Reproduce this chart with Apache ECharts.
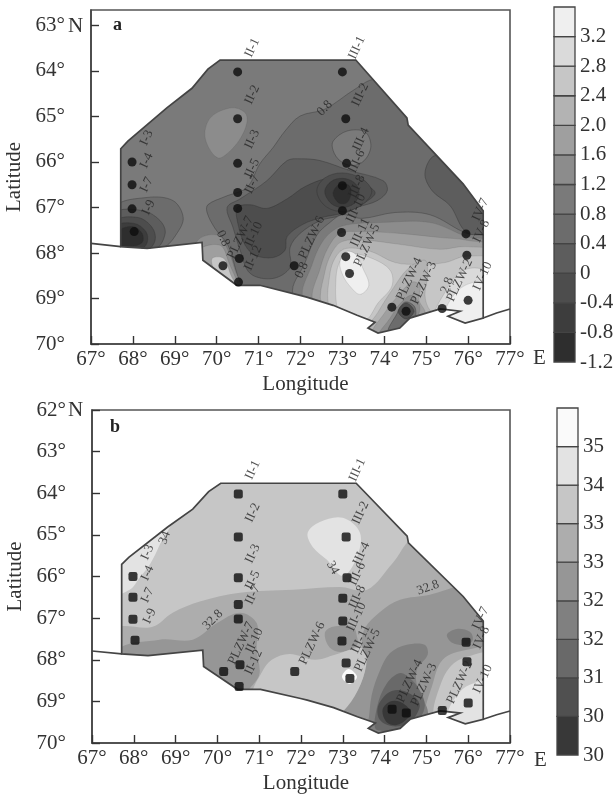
<!DOCTYPE html>
<html><head><meta charset="utf-8">
<style>html,body{margin:0;padding:0;background:#fff}#c{width:615px;height:796px}</style>
<script src="https://cdn.jsdelivr.net/npm/echarts@6/dist/echarts.min.js"></script>
</head><body><div id="c"></div>
<script>
// ---------- shared geography (longitude, latitude) ----------
const lonTicks = [67,68,69,70,71,72,73,74,75,76,77];
const latTicksA = [63,64,65,66,67,68,69,70];
const latTicksB = [62,63,64,65,66,67,68,69,70];
const region = [[67.71,67.86],[67.71,65.71],[67.88,65.54],[68.81,64.81],[69.41,64.38],[69.79,63.96],[70.08,63.76],[73.32,63.76],[74.54,65.03],[74.57,65.19],[75.88,66.48],[76.36,67.07],[76.36,69.43],[75.93,69.54],[75.52,69.39],[75.81,69.28],[75.33,69.23],[74.61,69.43],[74.37,69.65],[73.85,69.76],[73.61,69.65],[73.78,69.52],[73.35,69.37],[72.78,69.15],[72.15,68.97],[71.99,68.93],[71.03,68.71],[70.48,68.71],[69.67,68.16],[69.65,67.77],[68.34,67.9]];
const coastWest = [[67,67.79],[67.71,67.86]];
const coastEast = [[76.36,69.43],[76.68,69.32],[77,69.23]];
const stationNames = ['I-3','I-4','I-7','I-9','II-1','II-2','II-3','II-5','II-7','PLZW-7','II-10','II-12','PLZW-6','III-1','III-2','III-4','III-6','III-8','III-10','III-11','PLZW-5','PLZW-4','PLZW-3','PLZW-2','IV-7','IV-8','IV-10'];
const stationLon = [67.98,67.98,67.98,68.03,70.5,70.5,70.5,70.5,70.5,70.15,70.54,70.52,71.85,73,73.08,73.1,73,73,72.98,73.08,73.17,74.18,74.52,75.38,75.95,75.97,76];
const stationLat = [66,66.5,67.03,67.53,64.02,65.05,66.03,66.67,67.02,68.28,68.12,68.64,68.28,64.02,65.05,66.03,66.52,67.07,67.55,68.08,68.45,69.19,69.28,69.22,67.58,68.05,69.04];

// ---------- panel a: level bands ----------
const levelsA = [-1.2,-0.8,-0.4,0,0.4,0.8,1.2,1.6,2.0,2.4,2.8,3.2];
const barTopA = 3.6;
const grayA = ['#2e2e2e','#3d3d3d','#4d4d4d','#5d5d5d','#6c6c6c','#7a7a7a','#8c8c8c','#9f9f9f','#b3b3b3','#c6c6c6','#dadada','#efefef'];
const a_blobII2 = [[70.37,64.81],[70.68,64.92],[70.72,65.14],[70.56,65.49],[70.27,65.8],[70.03,65.91],[69.79,65.65],[69.72,65.32],[69.89,64.99]];
const a_east04 = [[73.78,64.18],[73.3,64.4],[72.58,64.84],[71.99,64.99],[71.63,65.32],[71.34,65.69],[71.03,66.04],[70.72,66.56],[70.2,66.76],[69.79,66.94],[69.77,67.11],[69.96,67.46],[70.27,67.83],[70.46,68.38],[70.6,68.82],[70.68,69.04],[73.06,70.02],[76.76,70.02],[76.76,64.22]];
const a_patchIII4 = [[72.78,65.54],[73.11,65.32],[73.54,65.34],[73.68,65.65],[73.52,65.97],[73.23,66.08],[72.94,65.97],[72.78,65.75]];
const a_northeast = [[75.21,65.86],[74.97,66.24],[75.14,66.63],[75.57,66.96],[75.97,67.55],[76.64,67.61],[76.64,66.85],[75.81,66.08]];
const a_west1 = [[67.57,67],[68.34,66.78],[68.96,66.85],[69.2,67.22],[69.05,67.57],[68.72,67.88],[67.57,68.05]];
const a_west2 = [[67.57,67.13],[68.24,67.07],[68.65,67.29],[68.77,67.57],[68.53,67.92],[67.57,68.05]];
const a_west3 = [[67.57,67.31],[68.12,67.22],[68.46,67.44],[68.53,67.72],[68.34,67.94],[67.57,68.05]];
const a_west4 = [[67.57,67.42],[68.03,67.35],[68.31,67.53],[68.34,67.77],[68.17,67.94],[67.57,68.05]];
const a_west5 = [[67.69,67.5],[68,67.42],[68.22,67.57],[68.22,67.77],[67.93,67.86],[67.64,67.81]];
const a_trough1 = [[71.2,66.41],[71.68,65.97],[71.99,65.93],[72.47,65.97],[73.18,66.19],[73.97,66.41],[74.07,66.63],[73.83,66.85],[73.35,67],[72.94,67.18],[72.47,67.29],[71.99,67.57],[71.75,67.88],[71.75,68.32],[71.34,68.56],[70.8,68.45],[70.56,67.94],[70.39,67.44],[70.25,67],[70.56,66.81]];
const a_trough2 = [[70.49,67],[70.8,66.94],[71.2,67.02],[71.68,66.81],[72.11,66.54],[72.7,66.36],[73.42,66.46],[73.78,66.67],[73.54,66.89],[73.06,67.11],[72.51,67.22],[72.06,67.37],[71.68,67.64],[71.63,67.94],[71.34,68.1],[70.92,68.05],[70.68,67.83],[70.51,67.37]];
const a_pit1 = [[72.39,66.63],[72.58,66.35],[73,66.24],[73.47,66.37],[73.7,66.65],[73.47,66.94],[73,67.09],[72.58,66.96]];
const a_pit2 = [[72.58,66.65],[72.73,66.43],[73,66.36],[73.28,66.45],[73.4,66.67],[73.28,66.91],[73,67],[72.73,66.91]];
const a_pit3 = [[72.78,66.67],[72.88,66.52],[73.04,66.48],[73.18,66.54],[73.2,66.72],[73.11,66.89],[72.94,66.91],[72.82,66.8]];
const a_plzw7_1 = [[69.55,67.72],[70.03,67.61],[70.27,67.94],[70.44,68.38],[70.58,68.82],[69.48,68.27]];
const a_plzw7_2 = [[69.55,67.94],[70.08,67.83],[70.29,68.21],[70.48,68.77],[69.48,68.34]];
const a_plzw7_3 = [[69.89,68.12],[70.17,68.12],[70.34,68.49],[70.46,68.73],[69.96,68.38]];
const a_south1 = [[71.82,68.91],[72.11,68.21],[72.39,67.61],[72.7,67.33],[73,67.16],[73.47,67.24],[74.26,67.11],[75.09,67.16],[75.97,67.57],[76.76,67.72],[76.76,70.13],[72.7,70.13]];
const a_south2 = [[72.06,69],[72.27,68.27],[72.51,67.77],[72.82,67.48],[73.18,67.37],[73.9,67.33],[75.09,67.33],[75.97,67.64],[76.76,67.83],[76.76,70.13],[72.94,70.13]];
const a_south3 = [[72.3,69.08],[72.47,68.34],[72.66,67.88],[72.94,67.57],[73.42,67.53],[74.37,67.57],[75.33,67.66],[75.97,67.72],[76.76,67.94],[76.76,70.13],[73.18,70.13]];
const a_south4 = [[72.51,69.15],[72.58,68.42],[72.75,67.99],[72.99,67.75],[73.54,67.72],[74.37,67.81],[75.33,67.92],[75.97,67.86],[76.76,68.05],[76.76,70.13],[73.3,70.13]];
const a_south5 = [[72.7,69.21],[72.7,68.47],[72.85,68.07],[73.09,67.9],[73.66,67.96],[74.26,68.21],[74.85,68.25],[75.45,68.21],[75.97,68.07],[76.76,68.21],[76.76,70.13],[73.42,70.13]];
const a_peak1 = [[72.9,69.26],[72.85,68.51],[72.97,68.14],[73.2,68.01],[73.71,68.12],[74.14,68.38],[74.18,68.73],[73.85,69.1],[73.56,69.47],[73.18,69.39]];
const a_peak2 = [[72.94,68.21],[73.09,67.97],[73.32,68.03],[73.49,68.34],[73.63,68.71],[73.42,68.91],[73.18,68.73],[73.01,68.49]];
const a_dip1 = [[73.54,69.8],[73.85,69.3],[74.18,68.82],[74.57,68.34],[74.97,68.16],[75.04,68.47],[74.97,68.93],[75.09,69.26],[75.38,69.43],[74.61,69.91]];
const a_dip2 = [[73.71,69.8],[74.02,69.3],[74.3,68.97],[74.66,68.64],[74.85,68.71],[74.83,69.04],[74.97,69.34],[74.5,69.87]];
const a_dip3 = [[73.85,69.85],[74.14,69.43],[74.37,69.12],[74.66,68.93],[74.85,69.21],[74.66,69.61],[74.37,69.85]];
const a_dip4 = [[74.09,69.74],[74.28,69.37],[74.49,69.08],[74.73,69.19],[74.71,69.52],[74.45,69.74]];
const a_dip5 = [[74.33,69.28],[74.52,69.1],[74.71,69.28],[74.52,69.45]];
const a_eastHigh1 = [[75.19,69.43],[75.45,68.86],[75.81,68.42],[76.28,68.34],[76.64,68.6],[76.64,69.8],[75.57,69.8]];
const a_eastHigh2 = [[75.42,69.47],[75.57,69.04],[75.93,68.71],[76.4,68.66],[76.64,69.04],[76.64,69.8],[75.69,69.8]];
const layersA = [[a_blobII2,6],[a_east04,4],[a_patchIII4,5],[a_northeast,3],[a_west1,4],[a_west2,3],[a_west3,2],[a_west4,1],[a_west5,0],[a_trough1,3],[a_trough2,2],[a_pit1,2],[a_pit2,1],[a_pit3,0],[a_plzw7_1,6],[a_plzw7_2,7],[a_plzw7_3,9],[a_south1,5],[a_south2,6],[a_south3,7],[a_south4,8],[a_south5,9],[a_peak1,10],[a_peak2,11],[a_dip1,8],[a_dip2,7],[a_dip3,6],[a_dip4,4],[a_dip5,2],[a_eastHigh1,10],[a_eastHigh2,11]];
const contourTextA = ['0.8','0.8','0.8','2.8'];
const contourPosA = [[72.58,64.82],[70.15,67.68],[72.03,68.38],[75.5,68.71]];
const contourRotA = [45,-65,65,70];

// ---------- panel b: level bands ----------
const levelsB = [29.8,30.4,31,31.6,32.2,32.8,33.4,34,34.6];
const barTopB = 35.2;
const grayB = ['#383838','#505050','#696969','#808080','#969696','#adadad','#c6c6c6','#e3e3e3','#fafafa'];
const b_i3 = [[67.42,64.64],[68.86,64.64],[68.62,65.24],[68.38,65.72],[68.14,66.03],[67.9,66.32],[67.42,66.44]];
const b_iii2 = [[72.16,64.95],[72.45,64.69],[73,64.59],[73.41,64.95],[73.34,65.53],[73,65.99],[72.62,65.6],[72.28,65.29]];
const b_lower = [[74.73,65.07],[74.2,65.67],[73.58,66.32],[72.93,66.25],[71.81,66.32],[70.54,66.39],[69.58,66.6],[68.93,66.87],[68.45,67.21],[67.54,67.31],[67.42,70.41],[76.76,70.41],[76.76,65.07]];
const b_west = [[67.55,67.81],[68.62,67.52],[69.41,67.52],[69.99,67.12],[70.54,66.87],[70.94,67.12],[70.94,67.76],[71.01,68.32],[70.85,68.6],[70.54,68.85],[69.34,68.97],[67.55,68.97]];
const b_east = [[75.92,66.2],[75.08,66.44],[74.37,66.56],[73.89,66.85],[73.53,67.24],[73.46,67.64],[73.56,68.08],[73.36,68.73],[73,69.21],[73.05,70.41],[75.32,70.41],[75.16,69.28],[75.32,68.65],[75.57,68.17],[75.97,67.93],[76.64,67.93],[76.64,66.2]];
const b_oval = [[72.57,67.36],[72.76,67.21],[73.24,67.21],[73.34,67.45],[73.34,67.64],[73,67.81],[72.69,67.71]];
const b_lobe = [[70.82,68.85],[71.07,68.29],[71.3,68],[71.73,67.86],[72.33,68],[72.81,67.88],[73.34,67.72],[73.51,67.76],[73.56,68.13],[73.36,68.73],[73,69.25],[72.57,69.57],[71.01,68.97]];
const b_spot = [[72.98,68.41],[73.14,68.22],[73.34,68.41],[73.16,68.58]];
const b_high0 = [[74.96,69.33],[75.13,68.65],[75.39,68],[75.97,67.76],[76.64,67.76],[76.64,70.17],[75.08,70.17]];
const b_high1 = [[75.16,69.33],[75.32,68.65],[75.57,68.17],[75.97,67.93],[76.64,67.88],[76.64,70.17],[75.32,70.17]];
const b_high2 = [[75.49,69.33],[75.73,68.85],[76.04,68.6],[76.64,68.49],[76.64,70.17],[75.44,70.17]];
const b_neOval = [[75.49,67.4],[75.73,67.26],[76.04,67.33],[76.11,67.52],[75.97,67.64],[75.63,67.6]];
const b_low1 = [[73.89,68.25],[74.13,67.84],[74.53,67.64],[74.96,67.64],[75.03,67.88],[74.77,68.25],[74.8,68.73],[75.03,69.21],[74.96,69.93],[73.41,70.05],[73.6,69.52],[73.69,68.85]];
const b_low2 = [[73.82,69.13],[74.06,68.56],[74.37,68.32],[74.6,68.44],[74.84,68.73],[74.96,69.13],[74.72,69.52],[73.82,69.69]];
const b_low3 = [[73.84,69.13],[74.08,68.8],[74.37,68.73],[74.72,68.89],[74.84,69.13],[74.6,69.5],[74.2,69.6],[73.89,69.45]];
const b_low4 = [[73.95,69.21],[74.12,69.01],[74.37,69.01],[74.6,69.21],[74.56,69.4],[74.29,69.57],[74.05,69.5]];
const layersB = [[b_i3,7],[b_iii2,7],[b_lower,5],[b_west,4],[b_east,4],[b_oval,4],[b_lobe,6],[b_spot,8],[b_high0,5],[b_high1,6],[b_high2,7],[b_neOval,3],[b_low1,3],[b_low2,2],[b_low3,1],[b_low4,0]];
const contourTextB = ['34','34','32.8','32.8'];
const contourPosB = [[68.74,65.07],[72.76,65.79],[69.89,67.04],[75.04,66.27]];
const contourRotB = [70,-60,45,20];

// ---------- drawing ----------
const serif = '"Liberation Serif","Times New Roman",serif';
const ink = '#333';
const fs = 21;

function panelAxes(i, rect, latMin, latTicks){
  const g = {left:rect[0],top:rect[1],width:rect[2],height:rect[3],outerBoundsMode:'none',show:true,borderColor:'#555',borderWidth:1.6,backgroundColor:'transparent'};
  const x = {type:'value',gridIndex:i,position:'bottom',min:67,max:77,interval:1,
    name:'Longitude',nameLocation:'middle',nameGap:30,nameTextStyle:{fontFamily:serif,fontSize:fs,color:ink,padding:[0,0,0,10]},
    axisLine:{show:true,onZero:false,lineStyle:{color:'#444',width:1.6}},
    axisTick:{show:true,inside:true,length:8,lineStyle:{color:'#333',width:1.4}},
    axisLabel:{show:true,margin:5,fontFamily:serif,fontSize:fs,color:ink,customValues:lonTicks,formatter:v=>v+'°'},splitLine:{show:false}};
  const y = {type:'value',gridIndex:i,position:'left',inverse:true,min:latMin,max:70,
    name:'Latitude',nameLocation:'middle',nameGap:64,nameRotate:90,nameTextStyle:{fontFamily:serif,fontSize:fs,color:ink},
    axisLine:{show:true,onZero:false,lineStyle:{color:'#444',width:1.6}},
    axisTick:{show:true,inside:true,length:8,customValues:latTicks,lineStyle:{color:'#333',width:1.4}},
    axisLabel:{show:true,margin:26,fontFamily:serif,fontSize:fs,color:ink,customValues:latTicks,formatter:v=>v+'°'},splitLine:{show:false}};
  return [g,x,y];
}
function barAxes(i, rect, min, max, levels, fmt){
  const g = {left:rect[0],top:rect[1],width:rect[2],height:rect[3],outerBoundsMode:'none',show:false};
  const x = {type:'value',gridIndex:i,min:0,max:1,show:false};
  const y = {type:'value',gridIndex:i,min:min,max:max,position:'right',
    axisLine:{show:false},axisTick:{show:false},splitLine:{show:false},
    axisLabel:{show:true,margin:5,fontFamily:serif,fontSize:fs,color:ink,customValues:levels,formatter:fmt}};
  return [g,x,y];
}
function contourSeries(i, layers, grays, strokeOn){
  return {type:'custom',xAxisIndex:i,yAxisIndex:i,silent:true,animation:false,clip:true,z:2,
    data:layers.map((l,k)=>[l[0][0][0],l[0][0][1],k]),
    renderItem:function(p,api){
      const k=api.value(2), lv=layers[k][1], pts=layers[k][0].map(q=>api.coord(q));
      return {type:'polygon',shape:{points:pts,smooth:0.35},
        style:{fill:grays[lv],stroke:strokeOn?(lv>=6?'rgba(70,70,70,.2)':'rgba(45,45,45,.5)'):'none',lineWidth:strokeOn?0.7:0},
        clipPath:{type:'polygon',shape:{points:region.map(q=>api.coord(q))}}};
    }};
}
function regionFill(i, fill){
  return {type:'custom',xAxisIndex:i,yAxisIndex:i,silent:true,animation:false,z:1,
    data:[region[0]],
    renderItem:function(p,api){return {type:'polygon',shape:{points:region.map(q=>api.coord(q))},style:{fill:fill,stroke:'none'}};}};
}
function outline(i){
  return {type:'custom',xAxisIndex:i,yAxisIndex:i,silent:true,animation:false,z:3,
    data:[region[0]],
    renderItem:function(p,api){
      const st={fill:'none',stroke:'#444',lineWidth:1.7};
      return {type:'group',children:[
        {type:'polygon',shape:{points:region.map(q=>api.coord(q))},style:st},
        {type:'polyline',shape:{points:coastWest.map(q=>api.coord(q))},style:st},
        {type:'polyline',shape:{points:coastEast.map(q=>api.coord(q))},style:st}]};
    }};
}
function stations(i, symbol){
  return {type:'scatter',xAxisIndex:i,yAxisIndex:i,silent:true,animation:false,z:5,symbol:symbol,symbolSize:9,
    itemStyle:{color:'#0c0c0c'},
    data:stationNames.map((n,k)=>({name:n,value:[stationLon[k],stationLat[k]],
      label:{offset:n.startsWith('PLZW')?[33,4]:[28,3]}})),
    label:{show:true,position:'inside',rotate:65,fontFamily:serif,fontSize:13,color:'#262626',formatter:p=>p.name}};
}
function contourText(i, pos, txt, rot){
  return {type:'scatter',xAxisIndex:i,yAxisIndex:i,silent:true,animation:false,z:5,symbolSize:0,
    data:pos.map((q,k)=>({value:q,name:txt[k],label:{rotate:rot[k]}})),
    label:{show:true,position:'inside',fontFamily:serif,fontSize:13,color:'#262626',formatter:p=>p.name}};
}
function colorBar(i, levels, top, grays){
  const edges = levels.concat([top]);
  return {type:'custom',xAxisIndex:i,yAxisIndex:i,silent:true,animation:false,z:2,
    data:levels.map((v,k)=>[0.5,v,k]),
    renderItem:function(p,api){
      const k=api.value(2), a=api.coord([0,edges[k]]), b=api.coord([1,edges[k+1]]);
      return {type:'rect',shape:{x:a[0],y:b[1],width:b[0]-a[0],height:a[1]-b[1]},
        style:{fill:grays[k],stroke:'#444',lineWidth:1.3}};
    }};
}
const [gA,xA,yA]=panelAxes(0,[91,10,419,334],62.66,latTicksA);
const [gB,xB,yB]=panelAxes(1,[92,410,418,333],62,latTicksB);
const [gC,xC,yC]=barAxes(2,[554,7,21,355],levelsA[0],barTopA,levelsA,v=>Math.abs(v)<1e-9?'0':v.toFixed(1));
const [gD,xD,yD]=barAxes(3,[557,408,21,347],levelsB[0],barTopB,levelsB,v=>String(Math.round(v)));
const note=(t,x,y,extra)=>({type:'text',x:x,y:y,silent:true,style:Object.assign({text:t,fontFamily:serif,fontSize:fs,fill:ink,textVerticalAlign:'middle'},extra||{})});

echarts.init(document.getElementById('c'),null,{renderer:'canvas'}).setOption({
  animation:false,backgroundColor:'#fff',
  grid:[gA,gB,gC,gD],xAxis:[xA,xB,xC,xD],yAxis:[yA,yB,yC,yD],
  series:[
    regionFill(0,grayA[5]),contourSeries(0,layersA,grayA,true),outline(0),stations(0,'circle'),contourText(0,contourPosA,contourTextA,contourRotA),
    regionFill(1,grayB[6]),contourSeries(1,layersB,grayB,false),outline(1),stations(1,'roundRect'),contourText(1,contourPosB,contourTextB,contourRotB),
    colorBar(2,levelsA,barTopA,grayA),colorBar(3,levelsB,barTopB,grayB)
  ],
  graphic:[
    note('N',68,26),note('E',533,358),note('N',68,410),note('E',534,760),
    note('a',113,25,{fontSize:18,fontWeight:'bold',fill:'#222'}),
    note('b',110,427,{fontSize:18,fontWeight:'bold',fill:'#222'})
  ]
});
</script></body></html>
